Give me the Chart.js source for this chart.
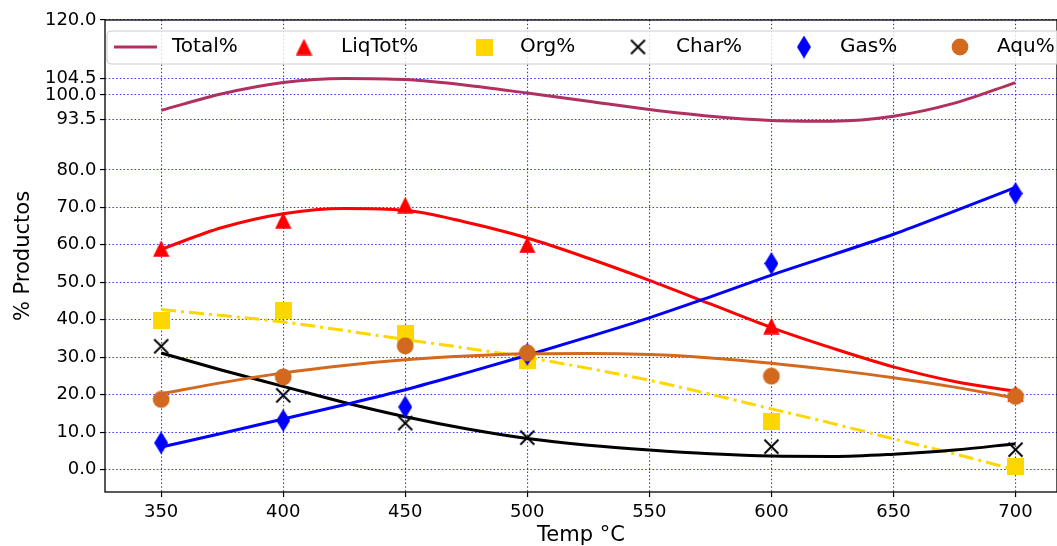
<!DOCTYPE html>
<html>
<head>
<meta charset="utf-8">
<script src="https://cdn.jsdelivr.net/npm/chart.js@4/dist/chart.umd.min.js"></script>
<style>
	html, body { margin: 0; padding: 0; background: #fff; }
	#wrap { width: 1057px; height: 546px; position: relative; }
</style>
</head>
<body>
<div id="wrap"><canvas id="prodChart"></canvas></div>
<script>
// measured points
const temps = [350, 400, 450, 500, 600, 700];
const liqTot = [59.0, 66.5, 70.6, 60.0, 38.3, 20.3];
const org = [39.9, 42.5, 36.3, 29.1, 12.9, 0.8];
const charPct = [32.9, 19.8, 12.4, 8.5, 6.1, 5.3];
const gas = [7.1, 13.1, 16.7, 30.8, 55.0, 73.7];
const aqu = [18.7, 24.7, 33.0, 31.1, 24.9, 19.5];

// fitted curves, every 25 °C
const fitTemps = [350, 375, 400, 425, 450, 475, 500, 525, 550, 575, 600, 625, 650, 675, 700];
const totalFit = [95.9, 100.3, 103.3, 104.4, 104.1, 102.6, 100.5, 98.3, 96.1, 94.3, 93.2, 93.0, 94.3, 97.8, 103.3];
const liqFit = [58.8, 64.6, 68.3, 69.7, 69.2, 66.0, 61.8, 56.4, 50.5, 44.2, 37.9, 32.4, 27.4, 23.5, 20.9];
const orgFit = [42.7, 41.1, 39.4, 37.1, 34.7, 32.4, 29.9, 27.0, 23.8, 20.1, 16.2, 12.3, 8.2, 4.2, -0.1];
const charFit = [31.1, 26.5, 22.2, 17.9, 14.1, 10.9, 8.3, 6.5, 5.2, 4.2, 3.6, 3.5, 4.1, 5.2, 6.9];
const gasFit = [6.0, 9.7, 13.5, 17.3, 21.3, 25.8, 30.5, 35.4, 40.5, 46.1, 51.9, 57.3, 62.8, 69.0, 75.3];
const aquFit = [20.2, 23.2, 25.8, 27.8, 29.3, 30.3, 30.9, 31.0, 30.7, 29.8, 28.4, 26.6, 24.5, 22.0, 19.1];

const seriesLabels = ["Total%", "LiqTot%", "Org%", "Char%", "Gas%", "Aqu%"];
const xTicks = [350, 400, 450, 500, 550, 600, 650, 700];
const yTicks = [0, 10, 20, 30, 40, 50, 60, 70, 80, 93.5, 100, 104.5, 120];

const FONT = "'DejaVu Sans', 'Liberation Sans', sans-serif";
const GRID = "rgba(0,0,255,0.8)";

function makeMarker(w, h, draw) {
	let cv = document.createElement("canvas");
	cv.width = w;
	cv.height = h;
	draw(cv.getContext("2d"), w, h);
	return cv;
}
const triMarker = makeMarker(17, 17, (c, w, h) => {
	c.fillStyle = "#ff0000";
	c.beginPath();
	c.moveTo(w / 2, 0.3);
	c.lineTo(w - 0.3, h - 0.3);
	c.lineTo(0.3, h - 0.3);
	c.closePath();
	c.fill();
});
const sqMarker = makeMarker(17, 17, (c, w, h) => {
	c.fillStyle = "#ffd700";
	c.fillRect(0, 0, w, h);
});
const xMarker = makeMarker(17, 17, (c, w, h) => {
	c.strokeStyle = "#000";
	c.lineWidth = 1.9;
	c.beginPath();
	c.moveTo(1.5, 1.5);
	c.lineTo(w - 1.5, h - 1.5);
	c.moveTo(w - 1.5, 1.5);
	c.lineTo(1.5, h - 1.5);
	c.stroke();
});
const diaMarker = makeMarker(14, 23, (c, w, h) => {
	c.fillStyle = "#0000ff";
	c.beginPath();
	c.moveTo(w / 2, 0);
	c.lineTo(w, h / 2);
	c.lineTo(w / 2, h);
	c.lineTo(0, h / 2);
	c.closePath();
	c.fill();
});
const dotMarker = makeMarker(18, 18, (c, w, h) => {
	c.fillStyle = "#d2691e";
	c.beginPath();
	c.arc(w / 2, h / 2, 8.4, 0, Math.PI * 2);
	c.fill();
});

function pts(xs, ys) {
	return xs.map((x, i) => ({ x: x, y: ys[i] }));
}
function fitSet(label, ys, color, order, dash) {
	return {
		label: label,
		data: pts(fitTemps, ys),
		showLine: true,
		borderColor: color,
		borderWidth: 3,
		borderDash: dash || [],
		pointRadius: 0,
		pointHoverRadius: 0,
		cubicInterpolationMode: "monotone",
		fill: false,
		order: order,
	};
}
function markSet(label, ys, marker, order) {
	return {
		label: label,
		data: pts(temps, ys),
		showLine: false,
		pointStyle: marker,
		pointRadius: 8,
		pointHoverRadius: 8,
		order: order,
	};
}

const datasets = [
	fitSet("Total%", totalFit, "#b03060", 11),
	markSet("LiqTot%", liqTot, triMarker, 10),
	fitSet("LiqTot fit", liqFit, "#ff0000", 9),
	markSet("Org%", org, sqMarker, 8),
	fitSet("Org fit", orgFit, "#ffd700", 7, [15, 5, 3, 5]),
	markSet("Char%", charPct, xMarker, 6),
	fitSet("Char fit", charFit, "#000000", 5),
	markSet("Gas%", gas, diaMarker, 4),
	fitSet("Gas fit", gasFit, "#0000ff", 3),
	markSet("Aqu%", aqu, dotMarker, 2),
	fitSet("Aqu fit", aquFit, "#d2691e", 1),
];

// legend drawn inside the plot like matplotlib's framed legend
const boxLegend = {
	id: "boxLegend",
	afterDraw(chart) {
		const { ctx, chartArea: { left, top, right } } = chart;
		const bx = left + 2, by = top + 11, bw = right - left + 6, bh = 33;
		ctx.save();
		ctx.beginPath();
		ctx.roundRect(bx, by, bw, bh, 4);
		ctx.fillStyle = "rgba(255,255,255,0.8)";
		ctx.fill();
		ctx.strokeStyle = "#cccccc";
		ctx.lineWidth = 1;
		ctx.stroke();
		const cy = by + 16;
		// handle
		ctx.strokeStyle = "#b03060";
		ctx.lineWidth = 3;
		ctx.beginPath();
		ctx.moveTo(left + 9, cy);
		ctx.lineTo(left + 52, cy);
		ctx.stroke();
		const marks = [null, triMarker, sqMarker, xMarker, diaMarker, dotMarker];
		const markX = [0, 199, 379, 533, 699, 855];
		const textX = [67, 236, 415, 571, 735, 892];
		ctx.font = "20px " + FONT;
		ctx.fillStyle = "#000";
		ctx.textBaseline = "middle";
		ctx.textAlign = "left";
		seriesLabels.forEach((lab, i) => {
			if (marks[i]) {
				const m = marks[i];
				ctx.drawImage(m, left + markX[i] - m.width / 2, cy - m.height / 2);
			}
			ctx.fillText(lab, left + textX[i], cy);
		});
		ctx.restore();
	},
};

// matplotlib style frame round the axes
const frame = {
	id: "frame",
	afterDatasetsDraw(chart) {
		const { ctx, chartArea: { left, top, right, bottom } } = chart;
		ctx.save();
		ctx.strokeStyle = "#000";
		ctx.lineWidth = 1.3;
		ctx.strokeRect(left, top, right - left, bottom - top);
		ctx.restore();
	},
};

Chart.defaults.font.family = FONT;
Chart.defaults.color = "#000";

new Chart(document.getElementById("prodChart"), {
	type: "scatter",
	data: { datasets: datasets },
	plugins: [frame, boxLegend],
	options: {
		responsive: true,
		maintainAspectRatio: false,
		devicePixelRatio: 1,
		animation: false,
		layout: { autoPadding: false, padding: { top: 20, right: 0, left: 0, bottom: 0 } },
		plugins: {
			legend: { display: false },
			tooltip: { enabled: false },
		},
		scales: {
			x: {
				type: "linear",
				min: 327,
				max: 717,
				afterBuildTicks: (scale) => {
					scale.ticks = xTicks.map((v) => ({ value: v }));
				},
				afterFit: (scale) => {
					scale.height = 54;
					scale.paddingLeft = 0;
					scale.paddingRight = 0;
				},
				ticks: {
					autoSkip: false,
					maxRotation: 0,
					padding: 5,
					font: { size: 18 },
					callback: (v) => v.toString(),
				},
				grid: {
					color: GRID,
					lineWidth: 1.1,
					tickColor: "#000",
					tickLength: 5,
					tickWidth: 1.2,
					tickBorderDash: [],
				},
				border: { display: false, dash: [1.5, 2.2] },
				title: {
					display: true,
					text: "Temp °C",
					font: { size: 21 },
					padding: { top: 0, bottom: -2 },
				},
			},
			y: {
				type: "linear",
				min: -6,
				max: 120,
				afterBuildTicks: (scale) => {
					scale.ticks = yTicks.map((v) => ({ value: v }));
				},
				afterFit: (scale) => {
					scale.width = 105;
					scale.paddingTop = 0;
					scale.paddingBottom = 0;
				},
				ticks: {
					autoSkip: false,
					padding: 3.5,
					font: { size: 18 },
					callback: (v) => v.toFixed(1),
				},
				grid: {
					color: GRID,
					lineWidth: 1.1,
					tickColor: "#000",
					tickLength: 5,
					tickWidth: 1.2,
					tickBorderDash: [],
				},
				border: { display: false, dash: [1.5, 2.2] },
				title: {
					display: true,
					text: "% Productos",
					font: { size: 21 },
					padding: { top: 11, bottom: 0 },
				},
			},
		},
	},
});
</script>
</body>
</html>
